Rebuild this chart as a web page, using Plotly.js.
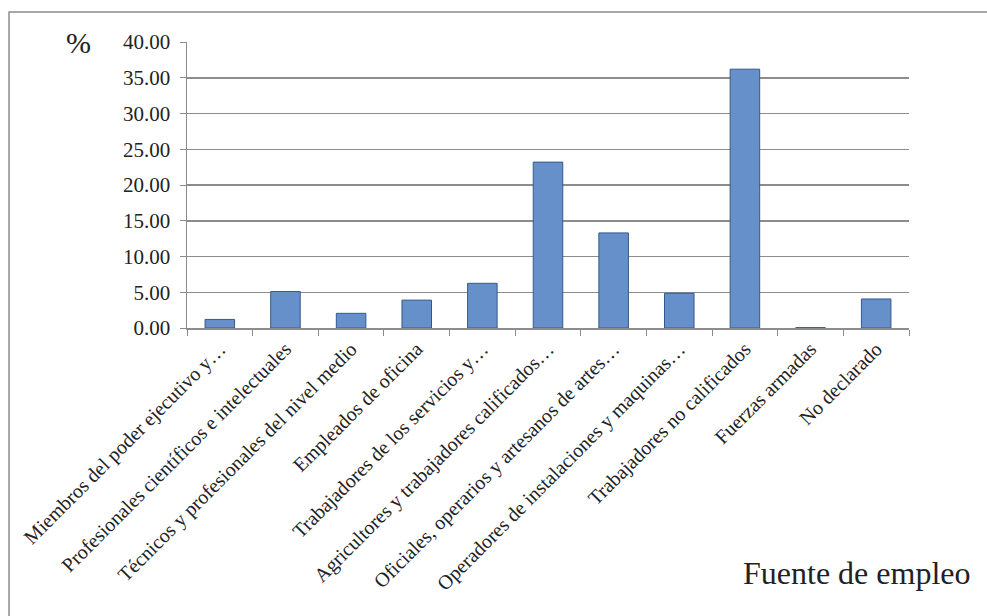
<!DOCTYPE html>
<html>
<head>
<meta charset="utf-8">
<script src="https://cdn.plot.ly/plotly-3.0.1.min.js"></script>
<style>
html,body{margin:0;padding:0;background:#fff;}
#chart{width:987px;height:616px;}
</style>
</head>
<body>
<div id="chart"></div>
<script>
const categories = [
  "Miembros del poder ejecutivo y…",
  "Profesionales científicos e intelectuales",
  "Técnicos y profesionales del nivel medio",
  "Empleados de oficina",
  "Trabajadores de los servicios y…",
  "Agricultores y trabajadores calificados…",
  "Oficiales, operarios y artesanos de artes…",
  "Operadores de instalaciones y maquinas…",
  "Trabajadores no calificados",
  "Fuerzas armadas",
  "No declarado"
];
const values = [1.2, 5.1, 2.05, 3.9, 6.25, 23.2, 13.3, 4.85, 36.2, 0.05, 4.06];
const yTickVals = [0, 5, 10, 15, 20, 25, 30, 35, 40];
const yTickText = ["0.00", "5.00", "10.00", "15.00", "20.00", "25.00", "30.00", "35.00", "40.00"];

const serifFamily = "Liberation Serif";

const trace = {
  type: "bar",
  x: categories,
  y: values,
  marker: {
    color: "#6690c9",
    line: {color: "#35598c", width: 1}
  },
  hoverinfo: "x+y"
};

const layout = {
  width: 987,
  height: 616,
  margin: {l: 187, r: 78, t: 42, b: 288},
  paper_bgcolor: "#fff",
  plot_bgcolor: "#fff",
  bargap: 0.55,
  showlegend: false,
  font: {family: serifFamily, size: 20, color: "#222"},
  xaxis: {
    type: "category",
    tickangle: -45,
    tickfont: {family: serifFamily, size: 20, color: "#222"},
    showline: true,
    linecolor: "#8c8c8c",
    linewidth: 1.5,
    ticks: "outside",
    tickson: "boundaries",
    ticklen: 6,
    tickcolor: "#8c8c8c",
    showgrid: false,
    zeroline: false,
    automargin: false
  },
  yaxis: {
    range: [0, 40],
    tickvals: yTickVals,
    ticktext: yTickText,
    tickfont: {family: serifFamily, size: 21, color: "#222"},
    showline: true,
    linecolor: "#8c8c8c",
    linewidth: 1.5,
    ticks: "outside",
    ticklen: 6,
    ticklabelstandoff: 5,
    tickcolor: "#8c8c8c",
    showgrid: true,
    gridcolor: "#8c8c8c",
    gridwidth: 1.5,
    zeroline: false,
    automargin: false
  },
  shapes: [{
    type: "rect", xref: "paper", yref: "paper",
    x0: -0.2465, x1: 1.2, y0: -1.2, y1: 1.105,
    line: {color: "#8c8c8c", width: 1.5}, fillcolor: "rgba(0,0,0,0)"
  }],
  annotations: [
    {
      text: "%", xref: "paper", yref: "paper",
      x: -0.15, y: 1.0, xanchor: "center", yanchor: "middle",
      showarrow: false, font: {family: serifFamily, size: 30, color: "#222"}
    },
    {
      text: "Fuente de empleo", xref: "paper", yref: "paper",
      x: 1.087, y: -0.857, xanchor: "right", yanchor: "middle",
      showarrow: false, font: {family: serifFamily, size: 32, color: "#222"}
    }
  ]
};

Plotly.newPlot("chart", [trace], layout, {displayModeBar: false, staticPlot: true});
</script>
</body>
</html>
